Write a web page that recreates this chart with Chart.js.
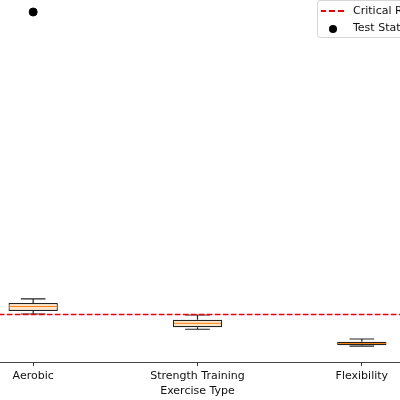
<!DOCTYPE html>
<html>
<head>
<meta charset="utf-8">
<script src="https://cdn.jsdelivr.net/npm/chart.js@4.4.0/dist/chart.umd.min.js"></script>
<style>
html, body { margin: 0; padding: 0; background: #fff; }
#wrap { position: relative; width: 400px; height: 400px; overflow: hidden; }
#chart { position: absolute; left: -49px; top: -6px; }
#legend {
    position: absolute; left: 317px; top: 0px;
    border: 1px solid #d6d6d6; border-radius: 3px;
    background: rgba(255, 255, 255, 0.85);
    padding: 1px 10px 1px 3px;
    font: 11px 'DejaVu Sans', sans-serif; color: #111;
    white-space: nowrap;
}
#legend .row { height: 17px; line-height: 17px; }
#legend .sample { display: inline-block; width: 24px; margin-right: 8px; vertical-align: middle; text-align: center; }
#legend .dash { height: 1.5px; background: repeating-linear-gradient(to right, #e00 0 5.5px, transparent 5.5px 8.5px); }
#legend .dot span { display: inline-block; width: 8px; height: 8px; border-radius: 50%; background: #000; vertical-align: middle; }
</style>
</head>
<body>
<div id="wrap">
    <canvas id="chart" width="493" height="406"></canvas>
    <div id="legend">
        <div class="row"><span class="sample dash"></span>Critical Region</div>
        <div class="row"><span class="sample dot"><span></span></span>Test Statistic</div>
    </div>
</div>
<script>
const categories = ['Aerobic', 'Strength Training', 'Flexibility'];
const whiskerLow = [6.13, 4.18, 2.04];
const q1 = [6.51, 4.43, 2.13];
const medians = [7.09, 4.94, 2.36];
const q3 = [7.54, 5.40, 2.59];
const whiskerHigh = [8.05, 6.00, 2.94];
const testStatistic = [44.7, null, null];
const criticalValue = 6.07;

// whiskers, medians and the critical line drawn through the chart scales
const boxExtras = {
    id: 'boxExtras',
    afterDatasetsDraw(chart) {
        const ctx = chart.ctx;
        const y = chart.scales.y;
        const meta = chart.getDatasetMeta(0);
        ctx.save();
        meta.data.forEach((bar, i) => {
            const x = bar.x;
            const w = bar.width;
            const cap = w / 4;
            ctx.strokeStyle = '#222';
            ctx.lineWidth = 1.2;
            ctx.beginPath();
            // upper whisker
            ctx.moveTo(x, y.getPixelForValue(q3[i]));
            ctx.lineTo(x, y.getPixelForValue(whiskerHigh[i]));
            ctx.moveTo(x - cap, y.getPixelForValue(whiskerHigh[i]));
            ctx.lineTo(x + cap, y.getPixelForValue(whiskerHigh[i]));
            // lower whisker
            ctx.moveTo(x, y.getPixelForValue(q1[i]));
            ctx.lineTo(x, y.getPixelForValue(whiskerLow[i]));
            ctx.moveTo(x - cap, y.getPixelForValue(whiskerLow[i]));
            ctx.lineTo(x + cap, y.getPixelForValue(whiskerLow[i]));
            ctx.stroke();
            // median
            ctx.strokeStyle = '#ff7f0e';
            ctx.lineWidth = 1;
            ctx.beginPath();
            ctx.moveTo(x - w / 2 + 1, y.getPixelForValue(medians[i]));
            ctx.lineTo(x + w / 2 - 1, y.getPixelForValue(medians[i]));
            ctx.stroke();
        });
        // critical value line
        const area = chart.chartArea;
        const cy = y.getPixelForValue(criticalValue);
        ctx.strokeStyle = '#ee0000';
        ctx.lineWidth = 1.5;
        ctx.setLineDash([5.5, 2.5]);
        ctx.beginPath();
        ctx.moveTo(area.left, cy);
        ctx.lineTo(area.right, cy);
        ctx.stroke();
        ctx.restore();
    }
};

const chart = new Chart(document.getElementById('chart'), {
    type: 'bar',
    data: {
        labels: categories,
        datasets: [{
            label: 'Box',
            data: categories.map((c, i) => [q1[i], q3[i]]),
            backgroundColor: '#fde5c8',
            borderColor: '#222',
            borderWidth: 1.2,
            borderSkipped: false,
            barPercentage: 0.3,
            categoryPercentage: 1
        }, {
            type: 'line',
            label: 'Test Statistic',
            data: testStatistic,
            showLine: false,
            pointRadius: 4,
            pointBackgroundColor: '#000',
            pointBorderColor: '#000'
        }]
    },
    options: {
        responsive: false,
        animation: false,
        layout: { padding: 0, autoPadding: false },
        plugins: { legend: { display: false }, tooltip: { enabled: false } },
        scales: {
            x: {
                afterFit(scale) { scale.height = 38; },
                grid: { offset: false, drawOnChartArea: false, drawTicks: true, tickLength: 4, color: '#333' },
                border: { display: true, color: '#444', width: 1 },
                ticks: { color: '#111', padding: 4, font: { family: 'DejaVu Sans', size: 11 } },
                title: {
                    display: true, text: 'Exercise Type', color: '#111',
                    padding: { top: 0, bottom: 2 },
                    font: { family: 'DejaVu Sans', size: 11 }
                }
            },
            y: { display: false, min: 0, max: 47 }
        }
    },
    plugins: [boxExtras]
});
</script>
</body>
</html>
